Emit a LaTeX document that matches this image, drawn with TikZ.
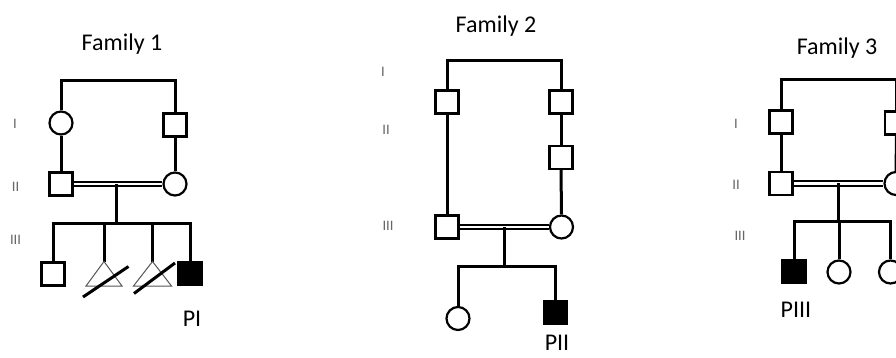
\documentclass[tikz,border=0pt]{standalone}
\usepackage{fontspec}
\setmainfont{Carlito}
\usetikzlibrary{calc}
\definecolor{genGray}{HTML}{666666}
\definecolor{triGray}{HTML}{555555}
\tikzset{
  ln/.style={line width=3pt},
  sq/.style={draw, line width=2.2pt, minimum size=23pt, inner sep=0pt, fill=white},
  sqf/.style={sq, fill=black},
  ci/.style={draw, circle, line width=2.2pt, minimum size=23pt, inner sep=0pt, fill=white},
  dbl/.style={draw=black, double=white, line width=2.2pt, double distance=2.1pt},
  tri/.style={draw=triGray, line width=1pt},
  slash/.style={line width=3pt},
  ttl/.style={font=\fontsize{24}{26}\selectfont, anchor=base, inner sep=0pt},
  gen/.style={font=\fontsize{14.5}{16}\selectfont, text=genGray, anchor=base, inner sep=0pt},
}
\begin{document}
\begin{tikzpicture}[x=1pt,y=-1pt]
\clip (0,0) rectangle (896,358);
\useasboundingbox (0,0) rectangle (896,358);

% ---------------- Family 1 ----------------
\node[ttl] (f1title) at (122,51) {Family 1};
\node[gen] (f1g1) at (15,129) {I};
\node[gen] (f1g2) at (15.5,191) {II};
\node[gen] (f1g3) at (15.5,244.5) {III};

\coordinate (f1top) at (118,81);
\coordinate (f1m) at (116,184);
\coordinate (f1s) at (116,223);

\node[ci] (f1a) at (61,123) {};
\node[sq] (f1b) at (175,125) {};
\node[sq] (f1c) at (61,184) {};
\node[ci] (f1d) at (175,184) {};
\node[sq] (f1k1) at (53,274) {};
\coordinate (f1t1) at (104,261.5);
\coordinate (f1t2) at (152.5,261.5);
\node[sqf] (f1k4) at (190,273.5) {};
\node[ttl] (f1p) at (192,326) {PI};

\draw[ln] (f1a.north) |- (f1top) -| (f1b.north);
\draw[ln] (f1a.south) -- (f1c.north);
\draw[ln] (f1b.south) -- (f1d.north);
\draw[dbl] (f1c.east) -- (f1d.west);
\draw[ln] (f1m) -- (f1s);
\draw[ln] (f1k1.north) |- (f1s) -| (f1k4.north);
\draw[ln] (f1t1) -- (f1t1 |- f1s);
\draw[ln] (f1t2) -- (f1t2 |- f1s);
\draw[tri] (f1t1) -- ++(18,24.5) -- ++(-36,0) -- cycle;
\draw[tri] (f1t2) -- ++(19,24.5) -- ++(-38,0) -- cycle;
\coordinate (f1x1a) at (83,297);
\coordinate (f1x1b) at (128.5,266.5);
\coordinate (f1x2a) at (134,293.5);
\coordinate (f1x2b) at (175,263);
\draw[slash] (f1x1a) -- (f1x1b);
\draw[slash] (f1x2a) -- (f1x2b);

% ---------------- Family 2 ----------------
\node[ttl] (f2title) at (496,32.5) {Family 2};
\node[gen] (f2g1) at (383,76.5) {I};
\node[gen] (f2g2) at (386,135) {II};
\node[gen] (f2g3) at (388,230) {III};

\coordinate (f2top) at (504,61);
\coordinate (f2m) at (504,227);
\coordinate (f2s) at (504,266);

\node[sq] (f2a) at (447,102) {};
\node[sq] (f2b) at (561,102) {};
\node[sq] (f2c) at (561,157.5) {};
\node[sq] (f2d) at (447,227) {};
\node[ci] (f2e) at (561.5,227) {};
\node[ci] (f2k1) at (458,318.5) {};
\node[sqf] (f2k2) at (555.5,312.5) {};
\node[ttl] (f2p) at (557,350.5) {PII};

\draw[ln] (f2a.north) |- (f2top) -| (f2b.north);
\draw[ln] (f2a.south) -- (f2d.north);
\draw[ln] (f2b.south) -- (f2c.north);
\draw[ln] (f2c.south) -- (f2e.north);
\draw[dbl] (f2d.east) -- (f2e.west);
\draw[ln] (f2m) -- (f2s);
\draw[ln] (f2k1.north) |- (f2s) -| (f2k2.north);

% ---------------- Family 3 ----------------
\node[ttl] (f3title) at (837,54.5) {Family 3};
\node[gen] (f3g1) at (736,128.5) {I};
\node[gen] (f3g2) at (736,189.5) {II};
\node[gen] (f3g3) at (740,240) {III};

\coordinate (f3top) at (838,80);
\coordinate (f3m) at (838,183.5);
\coordinate (f3s) at (838,221.5);

\node[sq] (f3a) at (781,122) {};
\node[sq] (f3b) at (896.5,123) {};
\node[sq] (f3c) at (781,183.5) {};
\node[ci] (f3d) at (896,183.5) {};
\node[sqf] (f3k1) at (794,271.5) {};
\node[ci] (f3k2) at (839,272) {};
\node[ci] (f3k3) at (890.5,272) {};
\node[ttl] (f3p) at (796,317) {PIII};

\draw[ln] (f3a.north) |- (f3top) -| (f3b.north);
\draw[ln] (f3a.south) -- (f3c.north);
\draw[ln] (f3b.south) -- (f3d.north);
\draw[dbl] (f3c.east) -- (f3d.west);
\draw[ln] (f3m) -- (f3s);
\draw[ln] (f3k1.north) |- (f3s) -| (f3k3.north);
\draw[ln] (f3k2.north) -- (f3k2.north |- f3s);
\end{tikzpicture}
\end{document}
